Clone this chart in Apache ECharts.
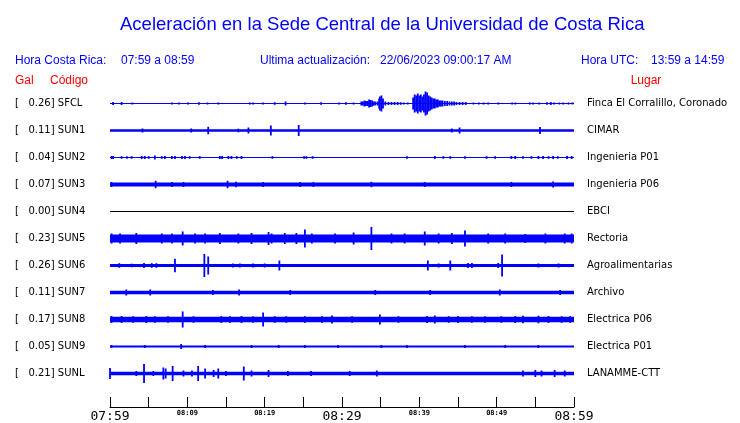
<!DOCTYPE html>
<html><head><meta charset="utf-8">
<script src="https://cdn.jsdelivr.net/npm/echarts@6/dist/echarts.min.js"></script>
<style>html,body{margin:0;padding:0;background:#fff}#c{width:740px;height:423px}</style>
</head><body><div id="c"></div>
<script>
// ---- data ----
const titleText = 'Aceleración en la Sede Central de la Universidad de Costa Rica';
const timeTicks = ['07:59','','08:09','','08:19','','08:29','','08:39','','08:49','','08:59'];
const codes = ['SFCL','SUN1','SUN2','SUN3','SUN4','SUN5','SUN6','SUN7','SUN8','SUN9','SUNL'];
const gal = [0.26,0.11,0.04,0.07,0.00,0.23,0.26,0.11,0.17,0.05,0.21];
const places = ['Finca El Corralillo, Coronado','CIMAR','Ingenieria P01','Ingenieria P06','EBCI','Rectoria','Agroalimentarias','Archivo','Electrica P06','Electrica P01','LANAMME-CTT'];
// background noise half-width of each trace (display units)
const noiseHalf = [0.6,1.3,0.6,2.0,0.5,4.0,1.4,1.8,2.7,1.1,1.7];
// events: [minute after 07:59, half amplitude]
const sfclEvents = [[0.4,1.5],[1.5,1.5],[2.9,1],[8.0,1],[8.9,1],[10.1,1],[11.5,1.3],[12.6,1],[14.0,1],[18.1,1],[18.5,1],[19.8,1],[21.3,1.3],[22.7,2],[25.2,1],[27.3,1.3],[29.6,1],[30.5,1.3],[31.5,1],
 [32.5,2],[32.7,2],[32.9,3],[33.1,2.5],[33.3,2.5],[33.5,4],[33.7,3.5],[33.9,3],[34.1,2],[34.3,2],[34.6,2],[34.8,5],[34.9,7],[35.1,8],[35.3,5],[35.6,2],[36.0,1.5],[36.4,1.5],[36.8,1.5],[37.2,1.5],[37.6,1.3],[38.0,1],[38.5,1],
 [39.2,6],[39.4,9],[39.6,8],[39.8,10],[40.0,8],[40.2,9],[40.4,7],[40.6,9],[40.8,12],[41.0,11],[41.2,8],[41.4,7],[41.6,6],[41.8,5],[42.0,5],[42.2,4],[42.4,4],[42.6,3],[42.8,3],[43.0,3],[43.3,2.5],[43.6,2.5],[43.9,2],[44.2,2],[44.5,2],[44.8,1.5],[45.2,1.5],[45.6,1.5],[46.0,1.5],
 [47.0,1],[47.7,1],[48.3,1],[48.9,1],[50.2,1],[52.0,1],[52.4,1],[54.3,1],[54.7,1],[55.5,1],[56.5,1.3],[57.0,1.5],[57.4,1],[58.1,1],[58.6,1],[59.3,1],[59.8,1]];
const sun1Events = [[4.2,2],[10.5,2],[12.7,3.7],[16.6,1.8],[17.9,3],[20.8,5],[24.4,5.5],[44.2,2],[45.2,3],[55.6,3.5]];
const sun2Events = [[0.2,1.5],[0.4,1.5],[1.5,1.3],[2.2,1.3],[2.8,1.3],[4.1,1.5],[4.5,1.5],[5.0,1.3],[5.8,2],[6.7,1.3],[7.1,1.5],[8.0,1.5],[8.4,1.5],[9.3,1.5],[9.7,1.5],[10.3,1.3],[11.6,1.3],[14.2,1.5],[14.5,1.5],[15.3,1.5],[15.7,1.5],[16.4,1.3],[17.0,1.5],[21.0,1.3],[25.1,1.3],[25.4,1.3],[26.2,1.3],[38.4,1.3],[42.0,1.5],[43.1,1.3],[44.0,1.3],[45.9,1.3],[48.7,1.3],[49.8,1.3],[51.9,1.5],[52.4,1.5],[53.4,1.3],[54.5,1.3],[55.4,1.5],[56.0,1.5],[56.7,1.3],[57.3,1.5],[57.9,1.3],[59.1,1.5],[59.7,1.5]];
const sun3Events = [[0.2,2.5],[5.9,3.7],[8.0,2.5],[9.5,2.5],[15.2,3.7],[16.3,2.8],[19.8,2.5],[24.6,2.5],[26.3,2.5],[33.8,2.7],[40.7,2.5],[51.9,2.5],[57.3,3]];
const sun4Events = [];
const sun5Events = [[0.2,5],[1.3,5],[3.4,5.5],[6.7,5],[8.0,5],[9.4,7],[11.0,5],[12.3,5],[14.2,5.5],[16.6,5],[18.3,5.5],[20.5,6.5],[20.9,5],[22.6,5.5],[24.1,5.5],[25.2,9],[26.1,5],[29.1,5],[31.5,6],[33.8,11.5],[36.4,5],[38.1,5],[40.7,7],[42.5,5],[44.2,5.5],[45.9,8],[48.9,5],[51.1,5],[53.7,4.5],[56.3,5],[58.8,5],[59.7,5]];
const sun6Events = [[1.2,2.3],[2.8,1.8],[4.4,2.5],[5.4,2.3],[6.0,2.3],[8.4,6.7],[12.2,11.5],[12.7,9],[15.9,2],[16.8,2],[18.5,2],[20.0,2],[21.9,5],[24.8,1.5],[27.2,1.5],[29.5,1.5],[34.2,1.5],[36.6,1.5],[38.4,1.5],[41.1,5],[42.5,2],[44.0,5],[46.3,2.5],[46.8,2.5],[50.2,2.5],[50.7,11],[55.4,2],[58.0,2]];
const sun7Events = [[2.1,3],[5.2,3],[13.3,2.5],[16.7,3],[23.3,2.5],[34.3,2.5],[41.4,2.5],[50.4,3],[58.2,2.5]];
const sun8Events = [[0.2,3.5],[1.5,3.5],[3.0,3.3],[4.7,3.5],[5.8,3.3],[7.5,3.3],[9.4,8],[10.8,3.3],[14.4,3.5],[15.5,3.3],[17.0,3.5],[18.5,3.3],[19.8,7],[21.3,3.3],[22.8,3.3],[25.2,3.3],[27.4,3.3],[28.7,4],[31.3,3.3],[34.9,5],[37.3,3.3],[41.0,3.5],[42.0,4],[43.8,3.3],[45.0,3.5],[46.8,3.3],[48.5,3.3],[50.6,3.3],[52.4,3.5],[53.4,3.8],[55.4,3.8],[56.7,3.5],[58.4,3.3],[59.5,3.3]];
const sun9Events = [[0.2,1.5],[4.5,1.5],[9.2,2.5],[12.3,1.5],[18.3,1.5],[21.8,1.5],[25.2,1.5],[29.5,1.5],[35.1,1.5],[38.4,1.5],[45.9,1.5],[51.1,1.5],[55.4,1.5]];
const sunlEvents = [[0.0,5.5],[3.4,2.5],[4.4,9.5],[5.6,2.5],[6.9,6],[7.2,5],[8.1,7.5],[9.5,3],[10.6,3],[11.4,7.5],[12.3,5],[13.4,3.5],[14.0,5],[15.0,2.5],[17.3,7],[18.3,3],[20.5,3.5],[23.0,2.5],[26.0,2.5],[31.0,2.5],[34.5,3],[53.4,3],[55.0,3.5],[55.8,3],[57.5,3.5],[58.8,3]];

// ---- build ----
const allEvents = [sfclEvents,sun1Events,sun2Events,sun3Events,sun4Events,sun5Events,sun6Events,sun7Events,sun8Events,sun9Events,sunlEvents];
const ROW = 27;
const BLUE = '#0000ff', RED = '#ff0000';
const bandData = noiseHalf.map((h,i)=>[i,h]);
const eventData = [];
allEvents.forEach((ev,i)=>ev.forEach(e=>eventData.push([e[0],i,e[1]])));
const leftLabels = codes.map((c,i)=>'[   '+gal[i].toFixed(2)+'] '+c);

const chart = echarts.init(document.getElementById('c'), null, {renderer:'canvas'});
const labFont = 'DejaVu Sans';
const hdrFont = 'Liberation Sans';
function txt(x,y,text,color,align){
  return {type:'text', x:x, y:y, silent:true, style:{text:text, fill:color, font:'12px "'+hdrFont+'"', textAlign:align||'left', textVerticalAlign:'middle', verticalAlign:'middle'}};
}
chart.setOption({
  animation:false,
  backgroundColor:'#fff',
  title:{text:titleText, left:115, top:10, textStyle:{color:BLUE, fontSize:18.5, fontWeight:'normal', fontFamily:hdrFont}},
  graphic:[
    txt(15,61,'Hora Costa Rica:',BLUE),
    txt(121,61,'07:59 a 08:59',BLUE),
    txt(260,61,'Ultima actualización:',BLUE),
    txt(380,61,'22/06/2023 09:00:17 AM',BLUE),
    txt(581,61,'Hora UTC:',BLUE),
    txt(651,61,'13:59 a 14:59',BLUE),
    txt(15,81,'Gal',RED),
    txt(50,81,'Código',RED),
    txt(646,81,'Lugar',RED,'center')
  ],
  grid:[
    {left:110, right:166, top:90, height:297},
    {left:110, right:166, top:380, height:28}
  ],
  xAxis:[
    {gridIndex:0, type:'value', min:0, max:60, show:false},
    {gridIndex:1, type:'value', min:0, max:60, interval:5, position:'bottom',
     axisLine:{show:true, lineStyle:{color:'#000', width:1}},
     axisTick:{show:true, inside:true, length:10, lineStyle:{color:'#000', width:1}},
     splitLine:{show:false},
     axisLabel:{show:true, margin:3, showMinLabel:true, showMaxLabel:true, hideOverlap:false,
       formatter:function(v){const i=Math.round(v/5); const t=timeTicks[i]||''; if(!t) return ''; return (i%6===0)?'{big|'+t+'}':'{sm|'+t+'}';},
       rich:{big:{fontFamily:'DejaVu Sans Mono', fontSize:13, color:'#000'},
             sm:{fontFamily:'DejaVu Sans Mono', fontSize:7, fontWeight:'bold', color:'#000'}}}
    }
  ],
  yAxis:[
    {gridIndex:0, type:'value', inverse:true, min:-13.5, max:283.5, show:false},
    {gridIndex:0, type:'category', inverse:true, data:leftLabels, position:'left',
     axisLine:{show:false}, axisTick:{show:false},
     axisLabel:{align:'left', margin:95, color:'#000', fontFamily:labFont, fontSize:10, interval:0}},
    {gridIndex:0, type:'category', inverse:true, data:places, position:'right',
     axisLine:{show:false}, axisTick:{show:false},
     axisLabel:{align:'left', margin:13, color:'#000', fontFamily:labFont, fontSize:10, interval:0}},
    {gridIndex:1, type:'value', min:0, max:1, show:false}
  ],
  series:[
    {type:'custom', xAxisIndex:0, yAxisIndex:0, data:bandData, silent:true,
     renderItem:function(params, api){
       const row=api.value(0), half=api.value(1), off=row*ROW;
       const p0=api.coord([0, off-half]), p1=api.coord([60, off+half]);
       const y0=Math.min(p0[1],p1[1]), h=Math.max(1,Math.abs(p1[1]-p0[1]));
       return {type:'rect', shape:{x:p0[0], y:y0, width:p1[0]-p0[0], height:h},
               style:{fill: gal[row]===0 ? '#000' : BLUE}};
     }},
    {type:'custom', xAxisIndex:0, yAxisIndex:0, data:eventData, silent:true,
     renderItem:function(params, api){
       const t=api.value(0), row=api.value(1), a=api.value(2), off=row*ROW;
       const p0=api.coord([t, off-a]), p1=api.coord([t, off+a]);
       const y0=Math.min(p0[1],p1[1]), h=Math.abs(p1[1]-p0[1]);
       return {type:'rect', shape:{x:p0[0]-0.9, y:y0, width:1.8, height:h}, style:{fill:BLUE}};
     }}
  ]
});
</script></body></html>
